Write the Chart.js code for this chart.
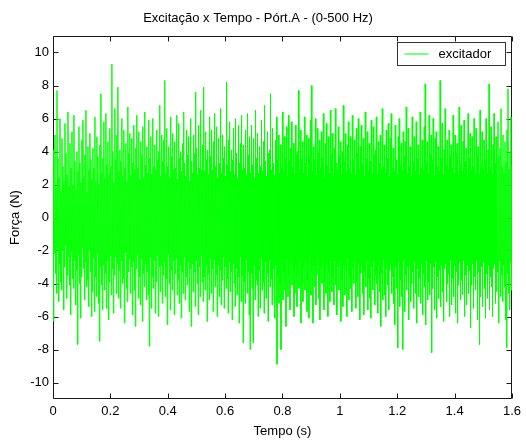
<!DOCTYPE html>
<html>
<head>
<meta charset="utf-8">
<script src="https://cdn.jsdelivr.net/npm/chart.js@4.4.1/dist/chart.umd.min.js"></script>
<style>
html,body{margin:0;padding:0;background:#fff;}
canvas{display:block;}
</style>
</head>
<body>
<canvas id="c" width="526" height="442"></canvas>
<script>
// ---- data ----
const chartTitle = 'Excitação x Tempo - Pórt.A - (0-500 Hz)';
const xTitle = 'Tempo (s)';
const yTitle = 'Força (N)';
const seriesName = 'excitador';
const duration = 1.6; // seconds covered by the record
const xTicks = [0, 0.2, 0.4, 0.6, 0.8, 1, 1.2, 1.4, 1.6];
const xTickLabels = ['0', '0.2', '0.4', '0.6', '0.8', '1', '1.2', '1.4', '1.6'];
const yTicks = [-10, -8, -6, -4, -2, 0, 2, 4, 6, 8, 10];
const yTickLabels = ['-10', '-8', '-6', '-4', '-2', '0', '2', '4', '6', '8', '10'];
const force = [
 2.5, -6.3, 4.1, -2.2, 5.0, -3.4, 1.8, -4.6, 7.7, -1.9, 3.6, -5.1, 2.4, -2.8, 6.0, -3.9, 1.6, -4.4, 4.8, -2.0,
 3.1, -5.6, 2.2, -3.0, 5.7, -1.7, 3.9, -4.9, 2.6, -3.5, 6.4, -2.4, 1.9, -4.1, 4.5, -5.9, 3.0, -2.1, 5.2, -3.7,
 2.0, -4.3, 6.2, -2.6, 3.4, -5.3, 1.7, -3.2, 4.0, -7.7, 2.8, -2.3, 5.5, -4.0, 3.3, -6.1, 2.1, -3.6, 4.7, -1.8,
 5.9, -3.1, 2.5, -5.0, 3.8, -2.7, 6.5, -4.2, 1.5, -3.8, 4.3, -5.4, 2.9, -2.0, 5.1, -3.3, 3.5, -6.0, 2.3, -4.5,
 4.2, -2.5, 3.0, -5.7, 6.1, -3.6, 2.2, -4.8, 4.9, -2.2, 3.7, -5.2, 2.0, -7.5, 4.4, -3.0, 7.5, -4.1, 2.7, -5.6,
 3.6, -2.9, 5.8, -4.4, 2.4, -3.4, 6.3, -5.5, 3.2, -2.6, 4.6, -6.2, 2.6, -3.9, 5.4, -2.3, 3.1, -4.7, 9.3, -3.1,
 4.0, -5.8, 2.1, -3.5, 6.6, -2.4, 3.5, -4.6, 5.0, -2.8, 7.9, -4.9, 2.8, -3.2, 4.1, -5.5, 3.4, -2.6, 6.0, -4.0,
 2.5, -3.7, 5.3, -6.4, 3.0, -2.1, 4.5, -4.3, 2.2, -5.1, 6.7, -3.3, 3.9, -2.5, 5.1, -4.6, 2.6, -3.0, 4.8, -5.9,
 3.3, -2.7, 5.6, -4.4, 2.9, -6.6, 4.2, -3.1, 6.2, -2.2, 3.0, -4.9, 5.2, -3.6, 2.3, -5.3, 4.6, -2.5, 3.8, -6.3,
 5.5, -3.4, 2.4, -4.2, 6.4, -2.8, 3.2, -5.0, 4.3, -3.3, 2.7, -4.7, 5.9, -7.8, 3.6, -2.4, 4.9, -5.5, 2.6, -3.6,
 6.0, -4.3, 3.1, -2.6, 4.4, -5.8, 2.9, -3.9, 5.3, -2.3, 3.5, -6.0, 4.0, -3.0, 6.8, -4.5, 2.5, -2.9, 5.0, -5.2,
 3.4, -3.5, 4.7, -2.7, 8.3, -4.8, 2.7, -3.7, 5.4, -6.5, 3.1, -2.2, 4.3, -4.0, 2.4, -5.6, 6.1, -3.2, 3.7, -4.4,
 5.1, -2.6, 2.9, -5.9, 4.6, -3.4, 3.0, -2.5, 6.2, -4.7, 2.3, -3.8, 5.7, -5.2, 3.6, -2.9, 4.0, -6.1, 2.8, -3.3,
 4.5, -4.6, 6.4, -2.4, 3.3, -5.0, 2.5, -3.6, 5.3, -4.1, 3.8, -2.7, 4.9, -5.7, 2.2, -3.1, 6.0, -6.6, 3.4, -2.8,
 2.7, -4.5, 5.0, -3.3, 3.9, -5.4, 7.6, -2.6, 4.2, -4.0, 2.6, -5.9, 5.6, -3.0, 3.0, -4.8, 6.5, -2.3, 2.9, -3.9,
 4.4, -5.1, 7.9, -3.6, 2.8, -4.4, 5.2, -2.9, 3.5, -6.3, 4.1, -3.4, 2.6, -5.0, 6.1, -2.5, 3.7, -4.6, 5.3, -3.1,
 2.9, -5.7, 4.6, -2.6, 6.3, -4.2, 3.1, -3.5, 5.5, -6.0, 2.4, -2.9, 4.8, -4.8, 3.3, -3.2, 6.6, -5.3, 2.7, -3.8,
 5.0, -2.4, 3.6, -5.5, 4.3, -3.0, 2.5, -4.3, 8.2, -3.7, 3.2, -5.8, 4.7, -2.7, 5.8, -4.5, 2.8, -3.3, 4.1, -6.2,
 3.5, -2.8, 5.4, -4.0, 2.6, -5.4, 6.0, -3.1, 3.9, -4.7, 2.4, -3.6, 5.6, -6.4, 3.3, -2.4, 4.5, -5.1, 6.2, -3.5,
 2.9, -7.6, 4.4, -3.9, 3.0, -5.2, 5.3, -2.6, 2.6, -4.6, 6.3, -3.3, 3.8, -5.9, 4.9, -8.0, 2.7, -3.4, 5.6, -4.3,
 3.2, -7.6, 4.8, -2.9, 2.4, -5.0, 6.5, -3.8, 3.6, -4.1, 5.1, -6.0, 2.7, -3.2, 4.3, -5.5, 3.1, -2.5, 5.9, -4.4,
 2.8, -3.9, 4.6, -5.8, 6.8, -2.7, 3.4, -4.9, 2.5, -3.4, 5.2, -6.3, 3.9, -2.6, 4.1, -4.2, 7.5, -3.7, 2.9, -5.3,
 5.4, -3.1, 3.3, -4.5, 2.6, -6.1, 4.7, -2.9, 6.1, -8.9, 3.5, -3.6, 5.0, -5.2, 2.7, -4.0, 4.4, -8.0, 3.0, -2.8,
 6.4, -5.0, 2.8, -3.3, 4.9, -4.4, 3.6, -6.6, 5.5, -2.5, 2.5, -4.8, 6.2, -3.5, 3.4, -5.6, 4.2, -2.7, 5.8, -4.1,
 3.0, -3.0, 4.5, -6.0, 2.6, -4.6, 5.6, -2.8, 3.8, -5.4, 4.0, -3.4, 7.7, -4.3, 2.9, -2.6, 5.3, -6.4, 3.5, -3.9,
 4.6, -5.1, 2.7, -3.1, 6.1, -4.4, 3.3, -2.7, 5.0, -5.7, 2.5, -3.8, 4.8, -6.1, 3.7, -2.4, 5.9, -4.7, 8.0, -3.3,
 2.8, -6.4, 4.3, -2.9, 3.5, -4.2, 6.0, -5.3, 2.6, -3.5, 5.4, -2.5, 3.9, -4.9, 4.7, -6.2, 3.0, -3.1, 5.2, -4.0,
 3.6, -2.7, 6.3, -5.6, 2.4, -3.9, 4.5, -4.6, 5.7, -2.8, 3.1, -6.0, 4.9, -3.3, 2.7, -5.1, 6.5, -2.6, 3.8, -4.5,
 5.1, -3.7, 2.5, -5.3, 4.2, -2.6, 6.6, -4.1, 3.3, -5.9, 2.9, -3.0, 5.5, -4.4, 3.7, -2.7, 4.6, -6.3, 2.6, -3.8,
 4.0, -5.4, 6.8, -2.9, 3.4, -4.7, 5.1, -3.2, 2.8, -6.0, 4.4, -2.5, 5.8, -5.0, 3.0, -3.6, 4.9, -4.3, 2.7, -5.7,
 6.2, -3.1, 3.5, -4.0, 4.7, -2.6, 2.6, -5.5, 5.4, -3.9, 3.9, -4.8, 6.0, -2.8, 2.9, -6.2, 4.3, -3.4, 5.6, -2.9,
 3.2, -4.6, 4.8, -5.9, 2.5, -3.3, 6.4, -4.2, 3.6, -2.6, 5.2, -5.6, 2.8, -3.7, 4.5, -4.9, 3.4, -6.1, 5.9, -3.0,
 2.7, -4.4, 5.5, -2.7, 3.8, -5.3, 4.1, -3.5, 6.1, -4.0, 2.6, -5.8, 4.6, -2.9, 3.3, -4.5, 5.0, -6.6, 2.9, -3.4,
 6.6, -5.0, 3.1, -2.6, 4.4, -4.7, 2.7, -6.0, 5.3, -3.1, 3.6, -4.1, 5.7, -5.6, 2.5, -3.2, 4.8, -2.8, 6.3, -4.6,
 3.0, -3.6, 4.2, -5.2, 2.8, -6.5, 5.6, -3.0, 3.5, -4.3, 2.6, -7.9, 4.9, -2.7, 6.0, -5.4, 3.2, -3.8, 4.5, -4.8,
 2.9, -8.0, 5.2, -2.6, 3.7, -5.7, 4.6, -3.5, 6.7, -4.4, 2.7, -3.0, 5.4, -6.2, 3.1, -2.9, 4.3, -5.1, 2.5, -4.0,
 6.1, -3.3, 3.4, -5.5, 4.9, -2.7, 2.8, -4.6, 5.8, -6.4, 3.6, -3.1, 4.4, -4.8, 2.6, -3.7, 6.4, -5.2, 3.0, -2.8,
 4.7, -5.9, 2.9, -3.4, 5.5, -4.2, 8.1, -6.5, 3.3, -2.6, 4.6, -5.0, 2.7, -3.9, 6.2, -4.7, 3.8, -2.8, 5.0, -8.2,
 3.5, -4.3, 6.0, -3.0, 2.5, -5.6, 4.8, -2.7, 5.2, -6.1, 3.1, -3.6, 4.3, -4.9, 2.8, -3.2, 8.3, -5.4, 3.6, -2.9,
 5.7, -4.5, 2.6, -6.3, 4.1, -3.1, 6.6, -2.8, 3.2, -5.1, 4.7, -4.0, 2.9, -3.4, 5.3, -6.0, 3.7, -2.6, 4.4, -5.3,
 3.0, -3.7, 6.2, -4.8, 2.7, -2.9, 5.0, -5.8, 3.9, -3.3, 4.5, -6.4, 2.6, -4.1, 6.7, -2.7, 3.3, -5.0, 5.6, -3.8,
 2.8, -4.7, 4.6, -2.6, 5.9, -6.0, 3.4, -3.5, 4.2, -5.3, 2.5, -2.9, 6.3, -4.6, 3.6, -3.2, 5.1, -6.7, 2.9, -4.1,
 4.9, -2.8, 3.1, -5.5, 6.0, -3.6, 2.7, -4.4, 5.4, -2.6, 3.8, -6.2, 4.3, -3.3, 2.6, -7.7, 6.5, -4.8, 3.2, -3.0,
 5.2, -5.4, 2.9, -2.7, 4.7, -4.3, 3.5, -6.1, 6.0, -3.4, 2.7, -4.9, 4.1, -2.9, 8.1, -5.6, 3.0, -3.6, 5.5, -4.2,
 2.6, -6.0, 4.4, -3.1, 6.3, -2.8, 3.3, -5.2, 4.9, -4.5, 2.8, -3.3, 5.8, -6.4, 3.7, -2.6, 4.2, -4.8, 6.6, -3.5,
 3.1, -5.1, 5.0, -2.9, 2.7, -4.2, 4.6, -6.2, 3.4, -7.9, 5.3, -3.4, 7.8, -4.6, 2.9, -5.6, 4.0, -2.7, 6.1, -4.4,
 3.2
];

// ---- styling ----
const FONT = {family: '"Liberation Sans", Arial, sans-serif', size: 13, weight: 'normal'};
const AXIS_COLOR = '#1a1a1a';
const LINE_COLOR = '#00ff00';

const step = duration / (force.length - 1);
const points = force.map((v, i) => ({x: i * step, y: v}));

const framePlugin = {
  id: 'frame',
  beforeDatasetsDraw(chart) {
    const {ctx, chartArea: a, scales: {x, y}} = chart;
    const L = Math.round(a.left) + 0.5, R = Math.round(a.right) - 0.5;
    const T = Math.round(a.top) + 0.5, B = Math.round(a.bottom) - 0.5;
    ctx.save();
    ctx.strokeStyle = AXIS_COLOR;
    ctx.lineWidth = 1;
    ctx.beginPath();
    ctx.rect(L, T, R - L, B - T);
    const tl = 5;
    xTicks.forEach(v => {
      const px = Math.round(x.getPixelForValue(v)) + 0.5;
      ctx.moveTo(px, B); ctx.lineTo(px, B - tl);
      ctx.moveTo(px, T); ctx.lineTo(px, T + tl);
    });
    yTicks.forEach(v => {
      const py = Math.round(y.getPixelForValue(v)) + 0.5;
      ctx.moveTo(L, py); ctx.lineTo(L + tl, py);
      ctx.moveTo(R, py); ctx.lineTo(R - tl, py);
    });
    ctx.stroke();
    ctx.restore();
  },
  afterDatasetsDraw(chart) {
    const {ctx, chartArea: a} = chart;
    const ds = chart.data.datasets[0];
    const bx = Math.round(a.right) - 114.5, by = Math.round(a.top) + 6.5;
    const bw = 108, bh = 23;
    ctx.save();
    ctx.fillStyle = '#fff';
    ctx.fillRect(bx, by, bw, bh);
    ctx.strokeStyle = '#333';
    ctx.lineWidth = 1;
    ctx.strokeRect(bx, by, bw, bh);
    ctx.strokeStyle = ds.borderColor;
    ctx.beginPath();
    ctx.moveTo(bx + 7, by + 11.5);
    ctx.lineTo(bx + 31, by + 11.5);
    ctx.stroke();
    ctx.fillStyle = '#000';
    ctx.font = FONT.size + 'px ' + FONT.family;
    ctx.textBaseline = 'middle';
    ctx.textAlign = 'left';
    ctx.fillText(ds.label, bx + 41, by + bh / 2 + 0.5);
    ctx.restore();
  }
};

new Chart(document.getElementById('c'), {
  type: 'line',
  data: {
    datasets: [{
      label: seriesName,
      data: points,
      borderColor: LINE_COLOR,
      backgroundColor: LINE_COLOR,
      borderWidth: 1,
      pointRadius: 0,
      tension: 0,
      fill: false
    }]
  },
  options: {
    responsive: false,
    animation: false,
    devicePixelRatio: 1,
    layout: {padding: {top: 0, right: 10, bottom: 0, left: 0}},
    plugins: {
      legend: {display: false},
      tooltip: {enabled: false},
      title: {
        display: true, text: chartTitle, color: '#000',
        font: FONT, padding: {top: 11, bottom: 9.4}
      }
    },
    scales: {
      x: {
        type: 'linear', min: 0, max: 1.6,
        afterBuildTicks: s => { s.ticks = xTicks.map(v => ({value: v})); },
        afterFit: s => { s.height = 43; },
        grid: {display: false, drawTicks: false},
        border: {display: false},
        ticks: {color: '#000', font: FONT, padding: 5, maxRotation: 0,
                callback: (v, i) => xTickLabels[i]},
        title: {display: true, text: xTitle, color: '#000', font: FONT, padding: {top: 0, bottom: 3}}
      },
      y: {
        type: 'linear', min: -11, max: 11,
        afterBuildTicks: s => { s.ticks = yTicks.map(v => ({value: v})); },
        afterFit: s => { s.width = 53; },
        grid: {display: false, drawTicks: false},
        border: {display: false},
        ticks: {color: '#000', font: FONT, padding: 4,
                callback: (v, i) => yTickLabels[i]},
        title: {display: true, text: yTitle, color: '#000', font: FONT, padding: {top: 8, bottom: 0}}
      }
    }
  },
  plugins: [framePlugin]
});
</script>
</body>
</html>
